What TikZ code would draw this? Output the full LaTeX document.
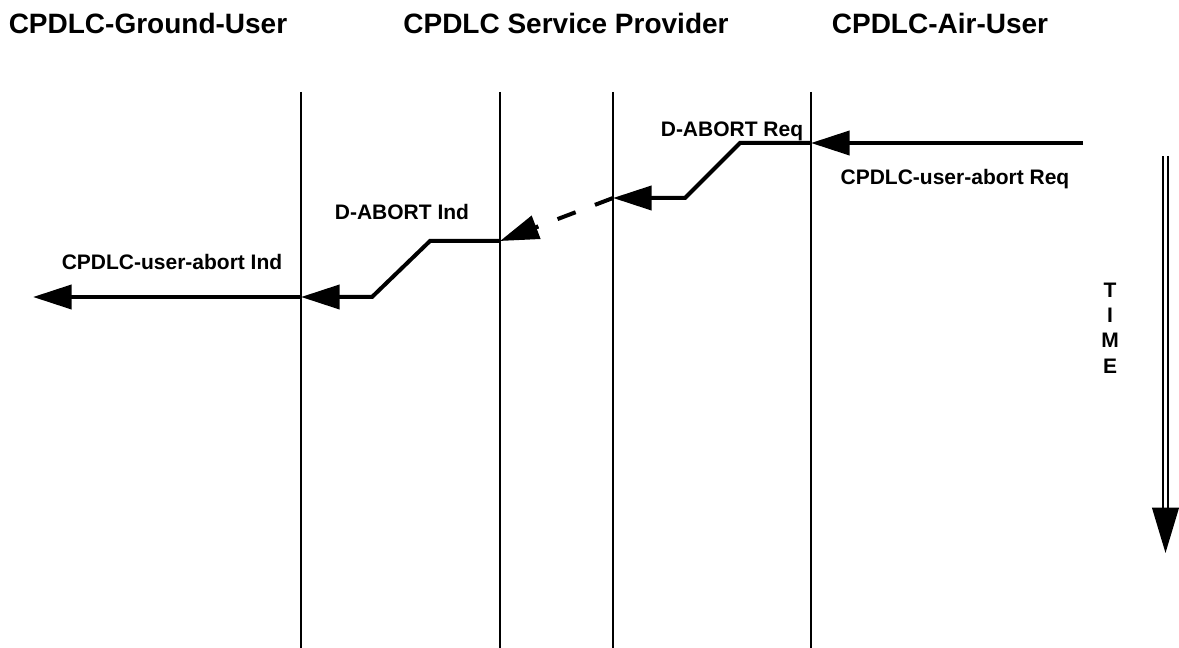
\documentclass[tikz,border=0pt]{standalone}
\usepackage{fontspec}
\setmainfont{Liberation Sans}
\usetikzlibrary{arrows.meta}
\begin{document}
\begin{tikzpicture}[x=0.75pt,y=-0.75pt,
  lifeline/.style={line width=1.4pt},
  msgline/.style={line width=3pt},
  msg/.style={msgline,-{Triangle[length=29pt,width=18pt]}},
  dashpart/.style={msgline,dash pattern=on 14.5pt off 15.5pt,shorten >=29pt},
  tippart/.style={msg,shorten <=60pt},
  header/.style={font=\fontsize{21}{25}\selectfont\bfseries,anchor=base,inner sep=0pt},
  lbl/.style={font=\fontsize{15.75}{19}\selectfont\bfseries,anchor=base,inner sep=0pt},
  timearrow/.style={double,line width=1.5pt,double distance=1.9pt,
    -{Triangle[length=34pt,width=20pt,fill=black]}}]
\useasboundingbox (0,0) rectangle (1179,648);

% column headings
\node[header] (hground) at (148,34) {CPDLC-Ground-User};
\node[header] (hprov) at (566,34) {CPDLC Service Provider};
\node[header] (hair) at (940,34) {CPDLC-Air-User};

% lifelines
\coordinate (g1) at (301,92);  \coordinate (g2) at (301,648);
\coordinate (p1) at (500,92);  \coordinate (p2) at (500,648);
\coordinate (q1) at (613,92);  \coordinate (q2) at (613,648);
\coordinate (a1) at (811,92);  \coordinate (a2) at (811,648);
\draw[lifeline] (g1) -- (g2);
\draw[lifeline] (p1) -- (p2);
\draw[lifeline] (q1) -- (q2);
\draw[lifeline] (a1) -- (a2);

% message points
\coordinate (airstart) at (1083,143);
\coordinate (reqin) at (811,143);
\coordinate (reqk1) at (740,143);
\coordinate (reqk2) at (685,198);
\coordinate (reqout) at (613,198);
\coordinate (indin) at (500,241);
\coordinate (indk1) at (430,241);
\coordinate (indk2) at (372,297);
\coordinate (indout) at (301,297);
\coordinate (groundend) at (33,297);

\draw[msg] (airstart) -- (reqin);
\draw[msg] (reqin) -- (reqk1) -- (reqk2) -- (reqout);
% transfer through the provider: dashed shaft, solid head
\draw[dashpart] (reqout) -- (indin);
\draw[tippart] (reqout) -- (indin);
\draw[msg] (indin) -- (indk1) -- (indk2) -- (indout);
\draw[msg] (indout) -- (groundend);

% primitive labels
\node[lbl] (lreq) at (732,137) {D-ABORT Req};
\node[lbl] (luserreq) at (955,185) {CPDLC-user-abort Req};
\node[lbl] (lind) at (402,220) {D-ABORT Ind};
\node[lbl] (luserind) at (172,270) {CPDLC-user-abort Ind};

% time axis
\coordinate (ttop) at (1165.5,156);
\coordinate (tbot) at (1165.5,553);
\draw[timearrow] (ttop) -- (tbot);
\node[font=\fontsize{15.75}{19.1}\selectfont\bfseries,align=center,inner sep=0pt]
  (timelbl) at (1110,328) {T\\I\\M\\E};
\end{tikzpicture}
\end{document}
